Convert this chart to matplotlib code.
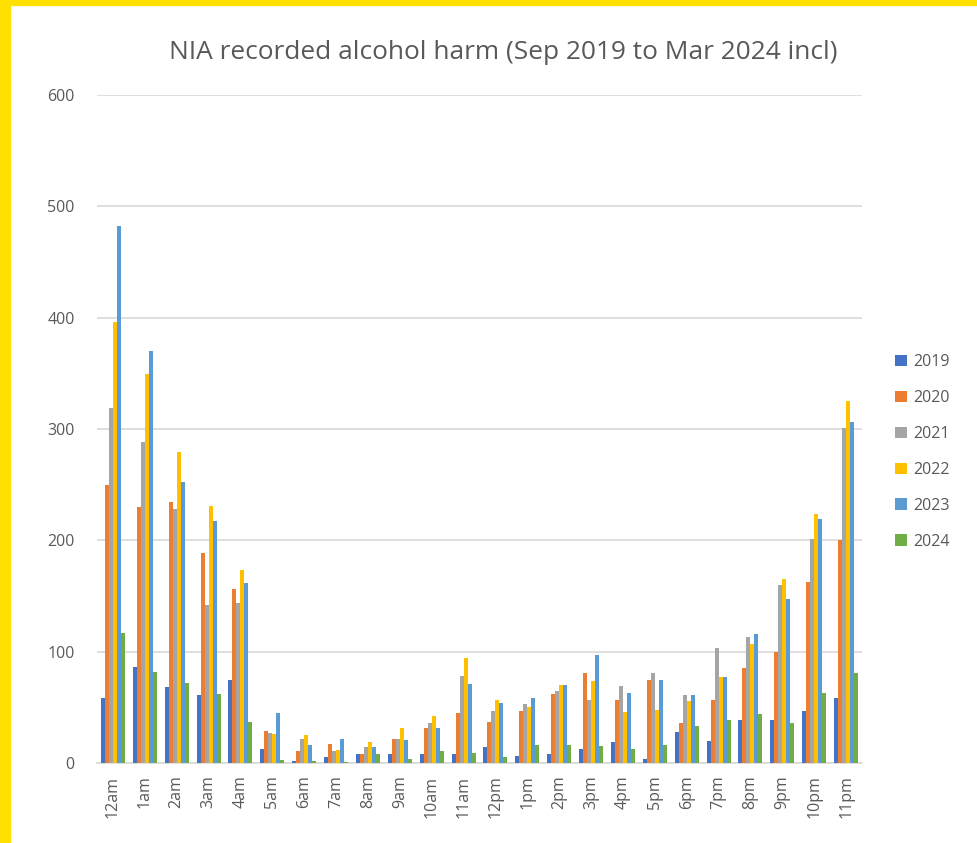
import numpy as np
import matplotlib.pyplot as plt
from matplotlib.patches import Rectangle

plt.rcParams['font.family'] = ['Open Sans', 'DejaVu Sans']

hours = ["12am", "1am", "2am", "3am", "4am", "5am", "6am", "7am", "8am", "9am",
         "10am", "11am", "12pm", "1pm", "2pm", "3pm", "4pm", "5pm", "6pm", "7pm",
         "8pm", "9pm", "10pm", "11pm"]
years = ["2019", "2020", "2021", "2022", "2023", "2024"]

y2019 = [58, 86, 68, 61, 75, 13, 2, 5, 8, 8, 8, 8, 14, 6, 8, 13, 19, 4, 28, 20, 39, 39, 47, 58]
y2020 = [250, 230, 234, 189, 156, 29, 11, 17, 8, 22, 31, 45, 37, 47, 62, 81, 57, 75, 36, 57, 85, 100, 163, 200]
y2021 = [319, 288, 228, 142, 144, 27, 22, 11, 14, 22, 36, 78, 47, 53, 65, 57, 69, 81, 61, 103, 113, 160, 201, 301]
y2022 = [396, 349, 279, 231, 173, 26, 25, 12, 19, 31, 42, 94, 57, 50, 70, 74, 46, 48, 56, 77, 107, 165, 224, 325]
y2023 = [482, 370, 252, 217, 162, 45, 16, 22, 14, 21, 31, 71, 54, 58, 70, 97, 63, 75, 61, 77, 116, 147, 219, 306]
y2024 = [117, 82, 72, 62, 37, 3, 2, 1, 8, 4, 11, 9, 5, 16, 16, 15, 13, 16, 33, 39, 44, 36, 63, 81]

series = [y2019, y2020, y2021, y2022, y2023, y2024]
colors = ["#4472C4", "#ED7D31", "#A5A5A5", "#FFC000", "#5B9BD5", "#70AD47"]

fig = plt.figure(figsize=(9.77, 8.43), dpi=100)
ax = fig.add_axes([97 / 977, 1 - 763 / 843, 765 / 977, 668 / 843])

x = np.arange(len(hours))
w = 0.125
for i, (vals, c, yr) in enumerate(zip(series, colors, years)):
    ax.bar(x + (i - 2.5) * w, vals, width=w, color=c, label=yr, zorder=3)

ax.set_xlim(-0.5, len(hours) - 0.5)
ax.set_ylim(0, 600)
ax.set_yticks(range(0, 601, 100))
ax.yaxis.grid(True, color="#D9D9D9", linewidth=1.2, zorder=0)
for s in ["top", "right", "left"]:
    ax.spines[s].set_visible(False)
ax.spines["bottom"].set_color("#D9D9D9")
ax.spines["bottom"].set_linewidth(1.2)
ax.tick_params(axis="both", length=0, colors="#595959", labelsize=11.5)
ax.tick_params(axis="y", pad=16)
ax.tick_params(axis="x", pad=9)
ax.set_xticks(x)
ax.set_xticklabels(hours, rotation=90)

fig.text(0.515, 0.938, "NIA recorded alcohol harm (Sep 2019 to Mar 2024 incl)",
         ha="center", va="center", fontsize=18.9, color="#595959")

ax.legend(loc="center left", bbox_to_anchor=(1.025, 0.466), frameon=False,
          handlelength=0.7, handleheight=0.7, handletextpad=0.4,
          labelspacing=1.25, fontsize=11.5, labelcolor="#595959")

# yellow frame on the left and top
fig.patches.append(Rectangle((0, 0), 10 / 977, 1, transform=fig.transFigure,
                             color="#FFE000", zorder=10))
fig.patches.append(Rectangle((0, 1 - 5 / 843), 1, 5 / 843, transform=fig.transFigure,
                             color="#FFE000", zorder=10))

fig.savefig("out.png", dpi=100)
